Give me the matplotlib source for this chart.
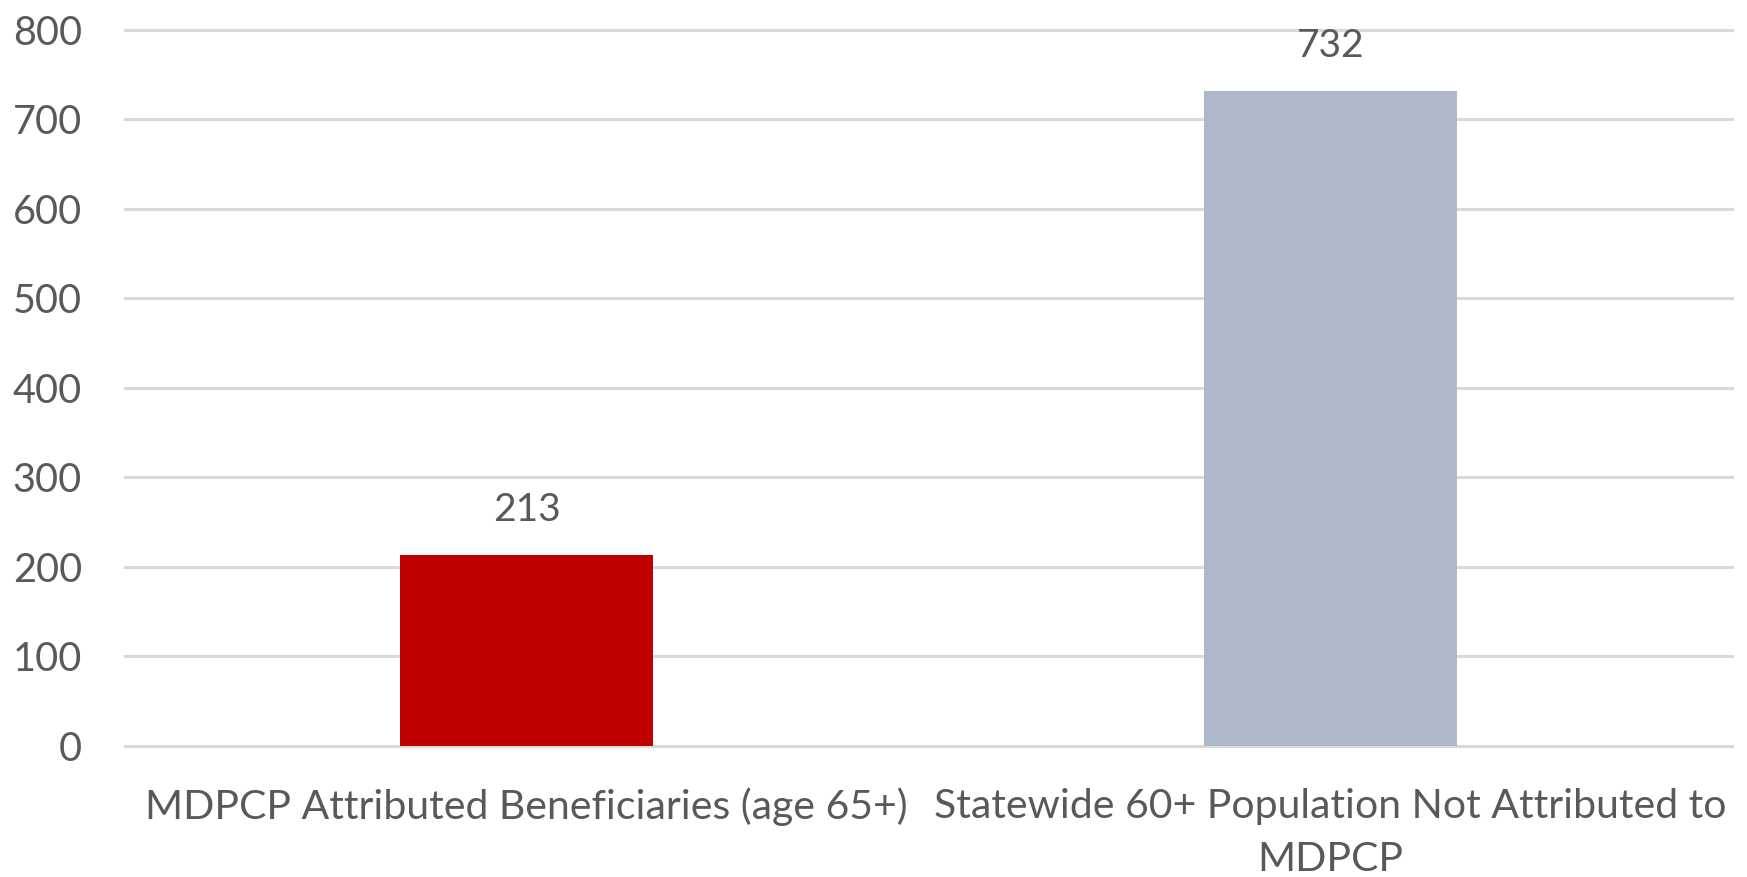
import matplotlib.pyplot as plt

categories = ['MDPCP Attributed Beneficiaries (age 65+)',
              'Statewide 60+ Population Not Attributed to\nMDPCP']
values = [213, 732]
bar_colors = ['#C00000', '#ADB9CA']
y_ticks = [0, 100, 200, 300, 400, 500, 600, 700, 800]

plt.rcParams['font.family'] = ['Lato', 'DejaVu Sans']
text_color = '#595959'

fig = plt.figure(figsize=(17.47, 8.77), dpi=100)
ax = fig.add_axes([0.0716, 0.1494, 0.9198, 0.8164])

x = list(range(len(categories)))
ax.bar(x, values, width=0.315, color=bar_colors, zorder=3)
ax.set_xlim(-0.5, len(categories) - 0.5)
ax.set_ylim(0, 800)
ax.set_yticks(y_ticks)
ax.set_xticks(x)
ax.set_xticklabels(categories, fontsize=29.5, color=text_color, linespacing=1.55)

for t in y_ticks:
    ax.axhline(t, color='#D9D9D9', linewidth=2.2, zorder=1, clip_on=False)

for i, v in enumerate(values):
    ax.text(x[i], v + 30, str(v), ha='center', va='bottom', fontsize=28, color=text_color)

for spine in ax.spines.values():
    spine.set_visible(False)
ax.tick_params(axis='y', length=0, pad=31, labelsize=28.5, labelcolor=text_color)
ax.tick_params(axis='x', length=0, pad=30)

fig.savefig('out.png', dpi=100)
